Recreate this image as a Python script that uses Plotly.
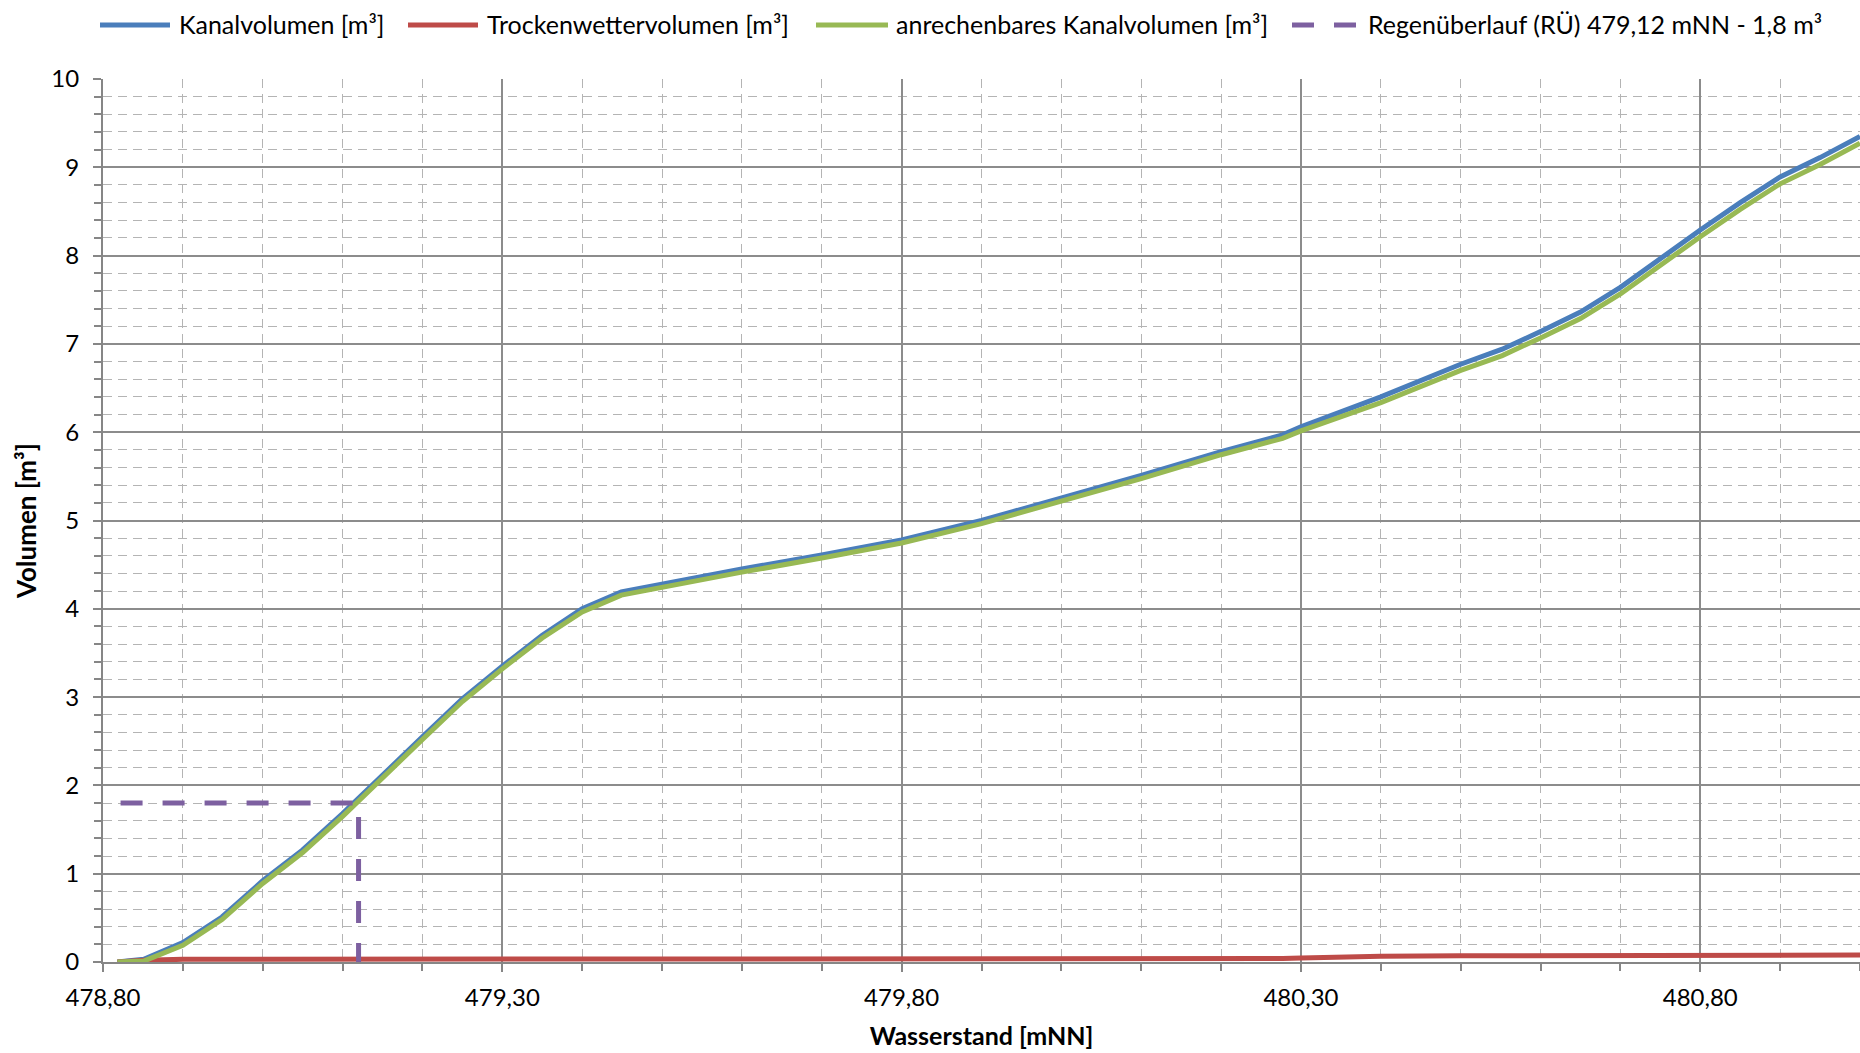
import plotly.graph_objects as go

# Wasserstand [mNN]
wasserstand = [478.818, 478.851, 478.90, 478.949, 479.00, 479.05, 479.10, 479.15, 479.20,
               479.25, 479.30, 479.35, 479.40, 479.449, 479.50, 479.60, 479.70, 479.80,
               479.90, 480.00, 480.10, 480.20, 480.277, 480.30, 480.40, 480.50, 480.552,
               480.60, 480.65, 480.70, 480.75, 480.80, 480.85, 480.90, 480.95, 481.00]

kanalvolumen = [0.00, 0.03, 0.22, 0.51, 0.92, 1.27, 1.68, 2.12, 2.55,
                2.98, 3.35, 3.70, 4.00, 4.19, 4.28, 4.45, 4.61, 4.78,
                5.00, 5.25, 5.51, 5.78, 5.97, 6.06, 6.40, 6.77, 6.94,
                7.14, 7.36, 7.64, 7.97, 8.29, 8.60, 8.89, 9.11, 9.35]

trockenwettervolumen = [0.00, 0.02, 0.03, 0.03, 0.03, 0.03, 0.03, 0.03, 0.03,
                        0.03, 0.03, 0.03, 0.035, 0.035, 0.035, 0.035, 0.035, 0.035,
                        0.035, 0.035, 0.035, 0.035, 0.04, 0.045, 0.065, 0.07, 0.072,
                        0.072, 0.073, 0.074, 0.075, 0.076, 0.077, 0.077, 0.078, 0.078]

anrechenbar = [0.00, 0.01, 0.19, 0.48, 0.89, 1.24, 1.65, 2.09, 2.52,
               2.95, 3.32, 3.67, 3.965, 4.155, 4.245, 4.415, 4.575, 4.745,
               4.965, 5.215, 5.475, 5.745, 5.93, 6.015, 6.335, 6.70, 6.868,
               7.068, 7.287, 7.566, 7.895, 8.214, 8.523, 8.813, 9.032, 9.272]

# Regenüberlauf (RÜ) 479,12 mNN - 1,8 m³
rue_x = [478.822, 479.12, 479.12]
rue_y = [1.8, 1.8, 0.0]

series_names = ["Kanalvolumen [m³]", "Trockenwettervolumen [m³]",
                "anrechenbares Kanalvolumen [m³]", "Regenüberlauf (RÜ) 479,12 mNN - 1,8 m³"]
series_colors = ["#4A7EBB", "#BE4B48", "#98B954", "#7D60A0"]
series_dash = ["solid", "solid", "solid", "22px,20px"]

FONT = "Lato, 'Open Sans', sans-serif"
W, H = 1860, 1053
ML, MR, MT, MB = 103, 0, 79, 91

fig = go.Figure()
for xs, ys, i in [(wasserstand, kanalvolumen, 0), (wasserstand, trockenwettervolumen, 1),
                  (wasserstand, anrechenbar, 2), (rue_x, rue_y, 3)]:
    fig.add_trace(go.Scatter(x=xs, y=ys, mode="lines", name=series_names[i], showlegend=False,
                             line=dict(color=series_colors[i], width=5, dash=series_dash[i])))

axis_common = dict(
    showline=True, linecolor="#868686", linewidth=2,
    showgrid=True, gridcolor="#8C8C8C", gridwidth=1.5,
    ticks="outside", ticklen=8, tickwidth=2, tickcolor="#868686",
    tickfont=dict(family=FONT, size=24, color="#000000"),
    zeroline=False,
)

fig.update_xaxes(
    range=[478.8, 481.0], tick0=478.8, dtick=0.5, tickformat=".2f", ticklabelstandoff=5,
    minor=dict(dtick=0.1, showgrid=True, gridcolor="#B4B4B4", gridwidth=1.3,
               griddash="9px,6px", ticks="outside", ticklen=7, tickwidth=2, tickcolor="#868686"),
    title=dict(text="<b>Wasserstand [mNN]</b>", font=dict(family=FONT, size=25, color="#000"),
               standoff=18),
    **axis_common,
)
fig.update_yaxes(
    range=[0, 10], tick0=0, dtick=1, ticklabelstandoff=9,
    minor=dict(dtick=0.2, showgrid=True, gridcolor="#B4B4B4", gridwidth=1.3,
               griddash="9px,6px", ticks="outside", ticklen=7, tickwidth=2, tickcolor="#868686"),
    title=dict(text="<b>Volumen [m³]</b>", font=dict(family=FONT, size=26, color="#000"),
               standoff=7),
    **axis_common,
)

# Legend drawn as line samples + text at the top (paper coordinates of the plot area)
pw, ph = W - ML - MR, H - MT - MB
def px_x(p):
    return (p - ML) / pw
def px_y(p):
    return (H - MB - p) / ph

legend_line_px = [(100, 170), (408, 478), (816, 888), (1292, 1356)]
legend_text_px = [177, 485, 894, 1366]
legend_y_px = 25
for i in range(4):
    x0, x1 = legend_line_px[i]
    fig.add_shape(type="line", xref="paper", yref="paper",
                  x0=px_x(x0), x1=px_x(x1), y0=px_y(legend_y_px), y1=px_y(legend_y_px),
                  line=dict(color=series_colors[i], width=5, dash=series_dash[i]))
    fig.add_annotation(text=series_names[i], xref="paper", yref="paper",
                       x=px_x(legend_text_px[i]), y=px_y(legend_y_px - 1),
                       xanchor="left", yanchor="middle", showarrow=False,
                       font=dict(family=FONT, size=25, color="#000"))

fig.update_layout(
    width=W, height=H,
    margin=dict(l=ML, r=MR, t=MT, b=MB, autoexpand=False),
    paper_bgcolor="white", plot_bgcolor="white",
    separators=",.",
    font=dict(family=FONT, size=24, color="#000"),
    showlegend=False,
)

fig.write_html("out.html", config={"displayModeBar": False},
               post_script="document.body.style.margin='0';")
